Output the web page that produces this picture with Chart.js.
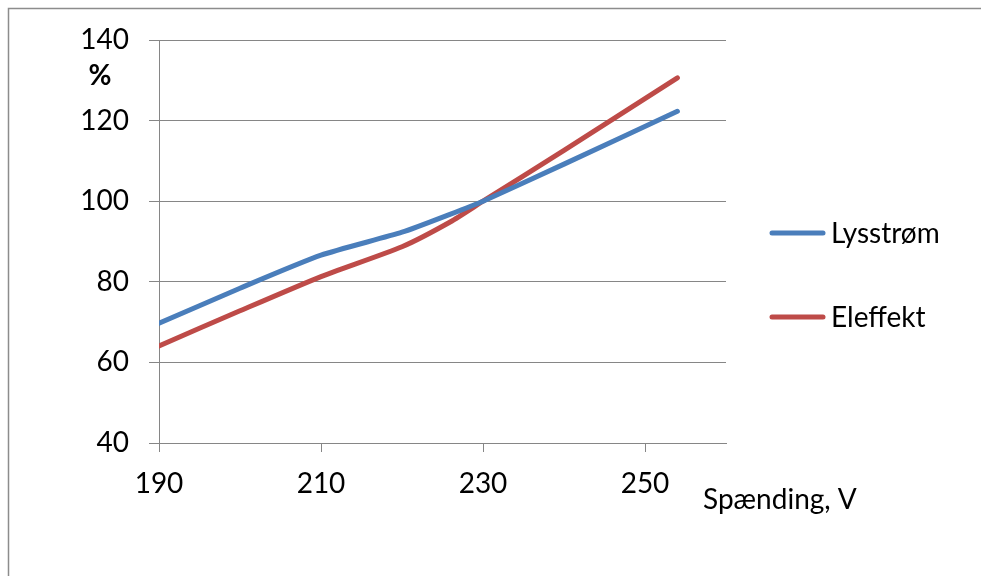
<!DOCTYPE html>
<html>
<head>
<meta charset="utf-8">
<title>Lysstrøm og eleffekt</title>
<script src="https://cdn.jsdelivr.net/npm/chart.js@4.4.1/dist/chart.umd.min.js"></script>
<style>
  html, body { margin: 0; padding: 0; background: #fff; }
  canvas { display: block; }
</style>
</head>
<body>
<canvas id="chart" width="981" height="576"></canvas>
<script>
// Spænding (V) og relative værdier i % (100 % ved 230 V)
const spaending = [190, 200, 210, 220, 226, 230, 240, 254];
const lysstroem = [69.7, 78.4, 86.6, 92.3, 96.8, 100, 109.2, 122.3];
const eleffekt  = [64.1, 72.8, 81.3, 88.7, 94.9, 100, 112.6, 130.6];
const xTicks = [190, 210, 230, 250];
const yTicks = [40, 60, 80, 100, 120, 140];

const FONT = 'Lato';
const GRID = '#868686';

// ramme, "%"-titel, x-titel og forklaring
const extras = {
    id: 'extras',
    beforeDraw(chart) {
        const ctx = chart.ctx;
        ctx.save();
        ctx.strokeStyle = '#8c8c8c';
        ctx.lineWidth = 1.5;
        ctx.strokeRect(8.5, 8.5, chart.width, chart.height);
        ctx.restore();
    },
    afterDraw(chart) {
        const ctx = chart.ctx;
        ctx.save();
        ctx.fillStyle = '#000';
        ctx.textBaseline = 'middle';

        ctx.font = 'bold 28px ' + FONT;
        ctx.textAlign = 'center';
        ctx.fillText('%', 100, 76);

        ctx.font = '28px ' + FONT;
        ctx.textAlign = 'left';
        ctx.fillText('Spænding, V', 703, 500);

        chart.data.datasets.forEach((ds, i) => {
            const y = 233 + i * 84;
            ctx.strokeStyle = ds.borderColor;
            ctx.lineWidth = 5;
            ctx.lineCap = 'round';
            ctx.beginPath();
            ctx.moveTo(772, y);
            ctx.lineTo(823, y);
            ctx.stroke();
            ctx.fillText(ds.label, 831, y + 1);
        });
        ctx.restore();
    }
};

const toPoints = (ys) => spaending.map((x, i) => ({ x: x, y: ys[i] }));

new Chart(document.getElementById('chart'), {
    type: 'line',
    data: {
        datasets: [{
            label: 'Lysstrøm',
            data: toPoints(lysstroem),
            borderColor: '#4A7EBB',
            borderWidth: 5,
            borderCapStyle: 'round',
            pointRadius: 0,
            tension: 0.2
        }, {
            label: 'Eleffekt',
            data: toPoints(eleffekt),
            borderColor: '#BE4B48',
            borderWidth: 5,
            borderCapStyle: 'round',
            pointRadius: 0,
            tension: 0.2
        }]
    },
    options: {
        responsive: false,
        animation: false,
        layout: { padding: { left: 9, top: 40, right: 255, bottom: 33 } },
        plugins: {
            legend: { display: false },
            tooltip: { enabled: false }
        },
        scales: {
            x: {
                type: 'linear',
                min: 190,
                max: 260,
                afterBuildTicks: s => { s.ticks = xTicks.map(v => ({ value: v })); },
                afterFit: s => { s.height = 100; },
                grid: { drawOnChartArea: false, color: GRID, tickLength: 9 },
                border: { color: GRID },
                ticks: { color: '#000', font: { family: FONT, size: 28 }, padding: 15, maxRotation: 0 }
            },
            y: {
                min: yTicks[0],
                max: yTicks[yTicks.length - 1],
                afterBuildTicks: s => { s.ticks = yTicks.map(v => ({ value: v })); },
                afterFit: s => { s.width = 150; },
                grid: { color: GRID, tickLength: 10 },
                border: { color: GRID },
                ticks: { color: '#000', font: { family: FONT, size: 28 }, padding: 20 }
            }
        }
    },
    plugins: [extras]
});
</script>
</body>
</html>
